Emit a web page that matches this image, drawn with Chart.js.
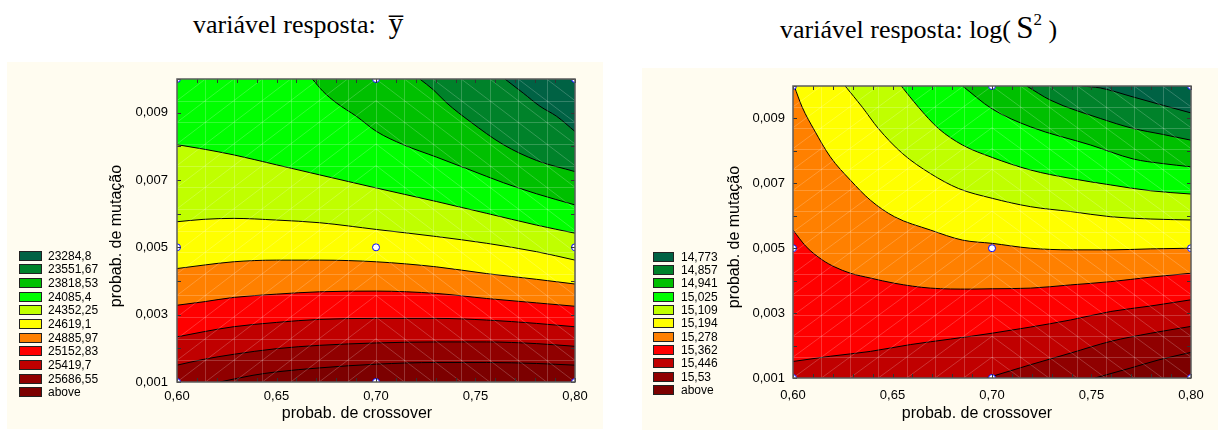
<!DOCTYPE html>
<html><head><meta charset="utf-8">
<script src="https://cdn.jsdelivr.net/npm/chart.js@4.4.0/dist/chart.umd.min.js"></script>
<style>
html,body{margin:0;padding:0;background:#fff;}
body{width:1218px;height:432px;position:relative;overflow:hidden;font-family:Arial,"Liberation Sans",sans-serif;}
.panel{position:absolute;background:#fffcf0;}
.ttl{position:absolute;font-family:"Liberation Serif","Times New Roman",serif;font-size:26px;line-height:26px;white-space:nowrap;color:#000;}
.lg{position:absolute;font-size:12px;line-height:12px;white-space:nowrap;color:#000;font-family:Arial,"Liberation Sans",sans-serif;}
.sw{position:absolute;box-sizing:border-box;border:1px solid #222;}
canvas{position:absolute;}
</style></head><body>
<div class="panel" style="left:7px;top:62px;width:596px;height:367px"></div>
<div class="panel" style="left:642px;top:68px;width:576px;height:362px"></div>
<div class="ttl" style="left:193px;top:10px">variável resposta:&nbsp;&nbsp;<span style="font-size:29px">y&#x0305;</span></div>
<div class="ttl" style="left:780px;top:15px">variável resposta: log(&thinsp;<span style="font-size:31px">S</span><span style="font-size:17px;position:relative;top:-13px">2</span>&nbsp;)</div>
<canvas id="c1" width="596" height="367" style="left:7px;top:62px"></canvas>
<canvas id="c2" width="576" height="362" style="left:642px;top:68px"></canvas>
<div id="lg1"></div><div id="lg2"></div>
<script>
// ---------------- data ----------------
const xLimits = [0.60, 0.80];
const yLimits = [0.001, 0.010];
const xTicks = [0.60, 0.65, 0.70, 0.75, 0.80];
const xTickLabels = ['0,60', '0,65', '0,70', '0,75', '0,80'];
const yTicks = [0.001, 0.003, 0.005, 0.007, 0.009];
const yTickLabels = ['0,001', '0,003', '0,005', '0,007', '0,009'];
const xTitle = 'probab. de crossover';
const yTitle = 'probab. de mutação';

const legendLabelsLeft = ['23284,8','23551,67','23818,53','24085,4','24352,25','24619,1','24885,97','25152,83','25419,7','25686,55','above'];
const legendLabelsRight = ['14,773','14,857','14,941','15,025','15,109','15,194','15,278','15,362','15,446','15,53','above'];
const bandColors = ['#006244','#00822a','#00c000','#00ff00','#c0ff00','#ffff00','#ff8000','#ff0000','#c00000','#900000','#7c0000'];

// design points (experiments)
const designX = [0.60, 0.60, 0.60, 0.70, 0.70, 0.70, 0.80, 0.80, 0.80];
const designY = [0.001, 0.005, 0.010, 0.001, 0.005, 0.010, 0.001, 0.005, 0.010];

// contour boundaries, left chart (ȳ), from top-right band downwards
const left1 = [[0.7648,0.0100],[0.7740,0.00958],[0.7824,0.00919],[0.7908,0.00889],[0.8000,0.00844]];
const left2 = [[0.7220,0.0100],[0.7288,0.00968],[0.7355,0.00929],[0.7472,0.00874],[0.7640,0.00805],[0.7807,0.00758],[0.8000,0.00725]];
const left3 = [[0.6680,0.0100],[0.6734,0.00963],[0.6801,0.00929],[0.6902,0.00889],[0.7003,0.00844],[0.7137,0.00805],[0.7304,0.00768],[0.7472,0.00730],[0.7640,0.00692],[0.7807,0.00659],[0.8000,0.00626]];
const left4 = [[0.600,0.00805],[0.6131,0.00792],[0.6282,0.00775],[0.650,0.00745],[0.6718,0.00715],[0.7003,0.00676],[0.7304,0.00636],[0.7556,0.00601],[0.7807,0.00566],[0.800,0.00542]];
const left5 = [[0.600,0.00576],[0.6131,0.00583],[0.6282,0.00586],[0.650,0.00581],[0.6718,0.00573],[0.7003,0.00553],[0.7304,0.00532],[0.7556,0.00512],[0.7807,0.00487],[0.800,0.00462]];
const left6 = [[0.600,0.00437],[0.6131,0.00447],[0.6282,0.00457],[0.650,0.00462],[0.6718,0.00462],[0.7003,0.00457],[0.7304,0.00442],[0.7556,0.00422],[0.7807,0.00405],[0.800,0.00391]];
const left7 = [[0.600,0.00328],[0.6131,0.00338],[0.6282,0.00351],[0.650,0.00361],[0.6718,0.00368],[0.7003,0.00370],[0.7304,0.00363],[0.7556,0.00348],[0.7807,0.00335],[0.800,0.00325]];
const left8 = [[0.600,0.00234],[0.6131,0.00249],[0.6282,0.00264],[0.650,0.00277],[0.6718,0.00286],[0.7003,0.00289],[0.7304,0.00289],[0.7556,0.00284],[0.7807,0.00274],[0.800,0.00264]];
const left9 = [[0.600,0.00150],[0.6131,0.00167],[0.6282,0.00182],[0.650,0.00199],[0.6718,0.00209],[0.7003,0.00216],[0.7304,0.00219],[0.7556,0.00219],[0.7807,0.00214],[0.800,0.00206]];
const left10 = [[0.6215,0.0010],[0.6382,0.00120],[0.650,0.00130],[0.6718,0.00142],[0.7003,0.00153],[0.7304,0.00158],[0.7556,0.00158],[0.7807,0.00155],[0.800,0.00150]];

// contour boundaries, right chart (log S²)
const right1 = [[0.7450,0.0100],[0.7544,0.00994],[0.7710,0.00966],[0.7856,0.00941],[0.8000,0.00917]];
const right2 = [[0.7174,0.0100],[0.7295,0.00956],[0.7544,0.00900],[0.7710,0.00869],[0.7856,0.00851],[0.8000,0.00833]];
const right3 = [[0.6852,0.0100],[0.6999,0.00930],[0.7194,0.00874],[0.7496,0.00818],[0.7710,0.00775],[0.7856,0.00761],[0.8000,0.00751]];
const right4 = [[0.6544,0.0100],[0.6630,0.00935],[0.6731,0.00869],[0.6852,0.00818],[0.7000,0.00780],[0.7194,0.00741],[0.7396,0.00715],[0.7597,0.00695],[0.7798,0.00677],[0.8000,0.00667]];
const right5 = [[0.6262,0.0100],[0.6348,0.00935],[0.6429,0.00869],[0.6550,0.00792],[0.6691,0.00730],[0.6832,0.00684],[0.7000,0.00654],[0.7194,0.00628],[0.7396,0.00613],[0.7597,0.00597],[0.7798,0.00590],[0.8000,0.00587]];
const right6 = [[0.6006,0.0100],[0.6046,0.00935],[0.6107,0.00864],[0.6187,0.00782],[0.6288,0.00710],[0.6389,0.00648],[0.6510,0.00597],[0.6691,0.00556],[0.6852,0.00525],[0.7000,0.00515],[0.7194,0.00500],[0.7396,0.00495],[0.7597,0.00495],[0.7798,0.00498],[0.8000,0.00500]];
const right7 = [[0.600,0.00556],[0.6066,0.00505],[0.6147,0.00464],[0.6207,0.00443],[0.6288,0.00423],[0.6389,0.00408],[0.6510,0.00392],[0.6691,0.00377],[0.6892,0.00374],[0.700,0.00375],[0.7194,0.00377],[0.7396,0.00387],[0.7597,0.00397],[0.7798,0.00411],[0.800,0.00423]];
const right8 = [[0.600,0.00151],[0.6187,0.00167],[0.6389,0.00182],[0.6590,0.00203],[0.6792,0.00220],[0.700,0.00238],[0.7194,0.00257],[0.7396,0.00279],[0.7597,0.00305],[0.7798,0.00322],[0.800,0.00341]];
const right9 = [[0.6973,0.0010],[0.7194,0.00141],[0.7396,0.00177],[0.7597,0.00213],[0.7798,0.00238],[0.800,0.00259]];
const right10 = [[0.7517,0.0010],[0.7698,0.00131],[0.7839,0.00156],[0.800,0.00179]];

const leftLines = [left1,left2,left3,left4,left5,left6,left7,left8,left9,left10];
const rightLines = [right1,right2,right3,right4,right5,right6,right7,right8,right9,right10];

// minor tick marks on the frame
const xMinorTicks = [];
for (let i = 0; i <= 20; i++) xMinorTicks.push(0.60 + i * 0.01);
const yMinorTicks = [];
for (let i = 0; i <= 9; i++) yMinorTicks.push(0.001 + i * 0.001);
// surface mesh divisions (faint triangulation drawn over the bands)
const meshDivisions = 14;

// ---------------- rendering ----------------
const FONT = 'Arial, "Liberation Sans", sans-serif';

function decorPlugin(g) {
  return {
    id: 'decor',
    afterDatasetsDraw(chart) {
      const {ctx, chartArea: a, scales: {x, y}} = chart;
      const n = meshDivisions;
      const xs = [], ys = [];
      for (let i = 0; i <= n; i++) {
        xs.push(x.getPixelForValue(xLimits[0] + (xLimits[1] - xLimits[0]) * i / n));
        ys.push(y.getPixelForValue(yLimits[0] + (yLimits[1] - yLimits[0]) * i / n));
      }
      ctx.save();
      ctx.beginPath(); ctx.rect(a.left, a.top, a.right - a.left, a.bottom - a.top); ctx.clip();
      ctx.strokeStyle = 'rgba(255,255,255,0.2)'; ctx.lineWidth = 1;
      ctx.beginPath();
      for (let i = 1; i < n; i++) {
        ctx.moveTo(Math.round(xs[i]) + 0.5, a.top); ctx.lineTo(Math.round(xs[i]) + 0.5, a.bottom);
        ctx.moveTo(a.left, Math.round(ys[i]) + 0.5); ctx.lineTo(a.right, Math.round(ys[i]) + 0.5);
      }
      for (let i = 0; i < n; i++) {
        for (let j = 0; j < n; j++) {
          if (i < n / 2) { ctx.moveTo(xs[i], ys[j]); ctx.lineTo(xs[i + 1], ys[j + 1]); }
          else { ctx.moveTo(xs[i], ys[j + 1]); ctx.lineTo(xs[i + 1], ys[j]); }
        }
      }
      ctx.stroke();
      ctx.restore();
    },
    afterDraw(chart) {
      const {ctx, chartArea: a, scales: {x, y}} = chart;
      ctx.save();
      ctx.strokeStyle = '#333'; ctx.lineWidth = 1;
      ctx.beginPath();
      xMinorTicks.forEach(v => {
        const px = Math.round(x.getPixelForValue(v)) + 0.5;
        ctx.moveTo(px, a.top); ctx.lineTo(px, a.top + 4);
        ctx.moveTo(px, a.bottom); ctx.lineTo(px, a.bottom - 4);
      });
      yMinorTicks.forEach(v => {
        const py = Math.round(y.getPixelForValue(v)) + 0.5;
        ctx.moveTo(a.left, py); ctx.lineTo(a.left + 4, py);
        ctx.moveTo(a.right, py); ctx.lineTo(a.right - 4, py);
      });
      ctx.stroke();
      ctx.strokeStyle = '#5c5c5c'; ctx.lineWidth = 1.5;
      ctx.strokeRect(a.left, a.top, a.right - a.left, a.bottom - a.top);
      ctx.fillStyle = '#000';
      ctx.font = '16px ' + FONT;
      ctx.textAlign = 'center'; ctx.textBaseline = 'alphabetic';
      ctx.fillText(xTitle, g.xtX, g.xtY);
      ctx.translate(g.ytX, g.ytY); ctx.rotate(-Math.PI / 2);
      ctx.textBaseline = 'middle';
      ctx.fillText(yTitle, 0, 0);
      ctx.restore();
    }
  };
}

function makeChart(id, lines, pivot, g) {
  const datasets = [];
  datasets.push({
    data: designX.map((x, i) => ({x: x, y: designY[i]})),
    showLine: false, pointRadius: 3.5, pointHoverRadius: 3.5,
    pointBackgroundColor: '#ffffff', pointBorderColor: '#0000ff', pointBorderWidth: 1,
    clip: 0, order: 0
  });
  lines.forEach((ln, i) => {
    const k = i + 1;
    const up = k <= pivot;
    datasets.push({
      data: ln.map(p => ({x: p[0], y: p[1]})),
      borderColor: '#000', borderWidth: 1,
      backgroundColor: up ? bandColors[k - 1] : bandColors[k],
      fill: up ? 'end' : 'start',
      pointRadius: 0, pointHoverRadius: 0,
      cubicInterpolationMode: 'monotone',
      order: up ? 50 + k : 50 - k
    });
  });
  datasets.push({
    data: xLimits.map(x => ({x: x, y: yLimits[1]})),
    borderWidth: 0, borderColor: 'rgba(0,0,0,0)',
    backgroundColor: bandColors[pivot], fill: 'start',
    pointRadius: 0, order: 100
  });

  const gridColor = ctx => (ctx.index > 0 && ctx.index < ctx.scale.ticks.length - 1) ? '#ffffff' : 'rgba(0,0,0,0)';

  return new Chart(document.getElementById(id), {
    type: 'line',
    data: {datasets},
    options: {
      responsive: false, animation: false, events: [],
      layout: {padding: {left: 0, top: g.padTop, right: g.padRight, bottom: 0}},
      plugins: {legend: {display: false}, tooltip: {enabled: false}, title: {display: false}},
      scales: {
        x: {
          type: 'linear', position: 'bottom', min: xLimits[0], max: xLimits[1], z: 1,
          afterBuildTicks: s => { s.ticks = xTicks.map(v => ({value: v})); },
          afterFit: s => { s.height = g.xHeight; },
          ticks: {autoSkip: false, maxRotation: 0, minRotation: 0, padding: g.tickPadX,
                  color: '#000', font: {family: FONT, size: 13},
                  callback: (v, i) => xTickLabels[i]},
          grid: {color: gridColor, lineWidth: 1, drawTicks: false},
          border: {display: false, dash: [2, 2]}
        },
        y: {
          type: 'linear', position: 'left', min: yLimits[0], max: yLimits[1], z: 1,
          afterBuildTicks: s => { s.ticks = yTicks.map(v => ({value: v})); },
          afterFit: s => { s.width = g.yWidth; },
          ticks: {autoSkip: false, padding: g.tickPadY,
                  color: '#000', font: {family: FONT, size: 13},
                  callback: (v, i) => yTickLabels[i]},
          grid: {color: gridColor, lineWidth: 1, drawTicks: false},
          border: {display: false, dash: [2, 2]}
        }
      }
    },
    plugins: [decorPlugin(g)]
  });
}

function buildLegend(id, labels, g) {
  const el = document.getElementById(id);
  labels.forEach((t, i) => {
    const top = g.top + g.step * i;
    const sw = document.createElement('div');
    sw.className = 'sw';
    sw.style.cssText = 'left:' + g.boxX + 'px;top:' + top + 'px;width:' + g.boxW + 'px;height:' + g.boxH + 'px;background:' + bandColors[i];
    el.appendChild(sw);
    const tx = document.createElement('div');
    tx.className = 'lg';
    tx.style.cssText = 'left:' + g.textX + 'px;top:' + (top - 1) + 'px';
    tx.textContent = t;
    el.appendChild(tx);
  });
}

makeChart('c1', leftLines, 3, {padTop: 17, padRight: 28, yWidth: 170, xHeight: 47, tickPadX: 7, tickPadY: 9,
  xtX: 350, xtY: 356, ytX: 110, ytY: 174});
makeChart('c2', rightLines, 6, {padTop: 18, padRight: 27, yWidth: 151, xHeight: 52, tickPadX: 10, tickPadY: 8,
  xtX: 335, xtY: 350, ytX: 93, ytY: 169});
buildLegend('lg1', legendLabelsLeft, {top: 250.7, step: 13.66, boxX: 19, boxW: 23, boxH: 10, textX: 48});
buildLegend('lg2', legendLabelsRight, {top: 251.7, step: 13.33, boxX: 653, boxW: 21, boxH: 10, textX: 681});
</script>
</body></html>
